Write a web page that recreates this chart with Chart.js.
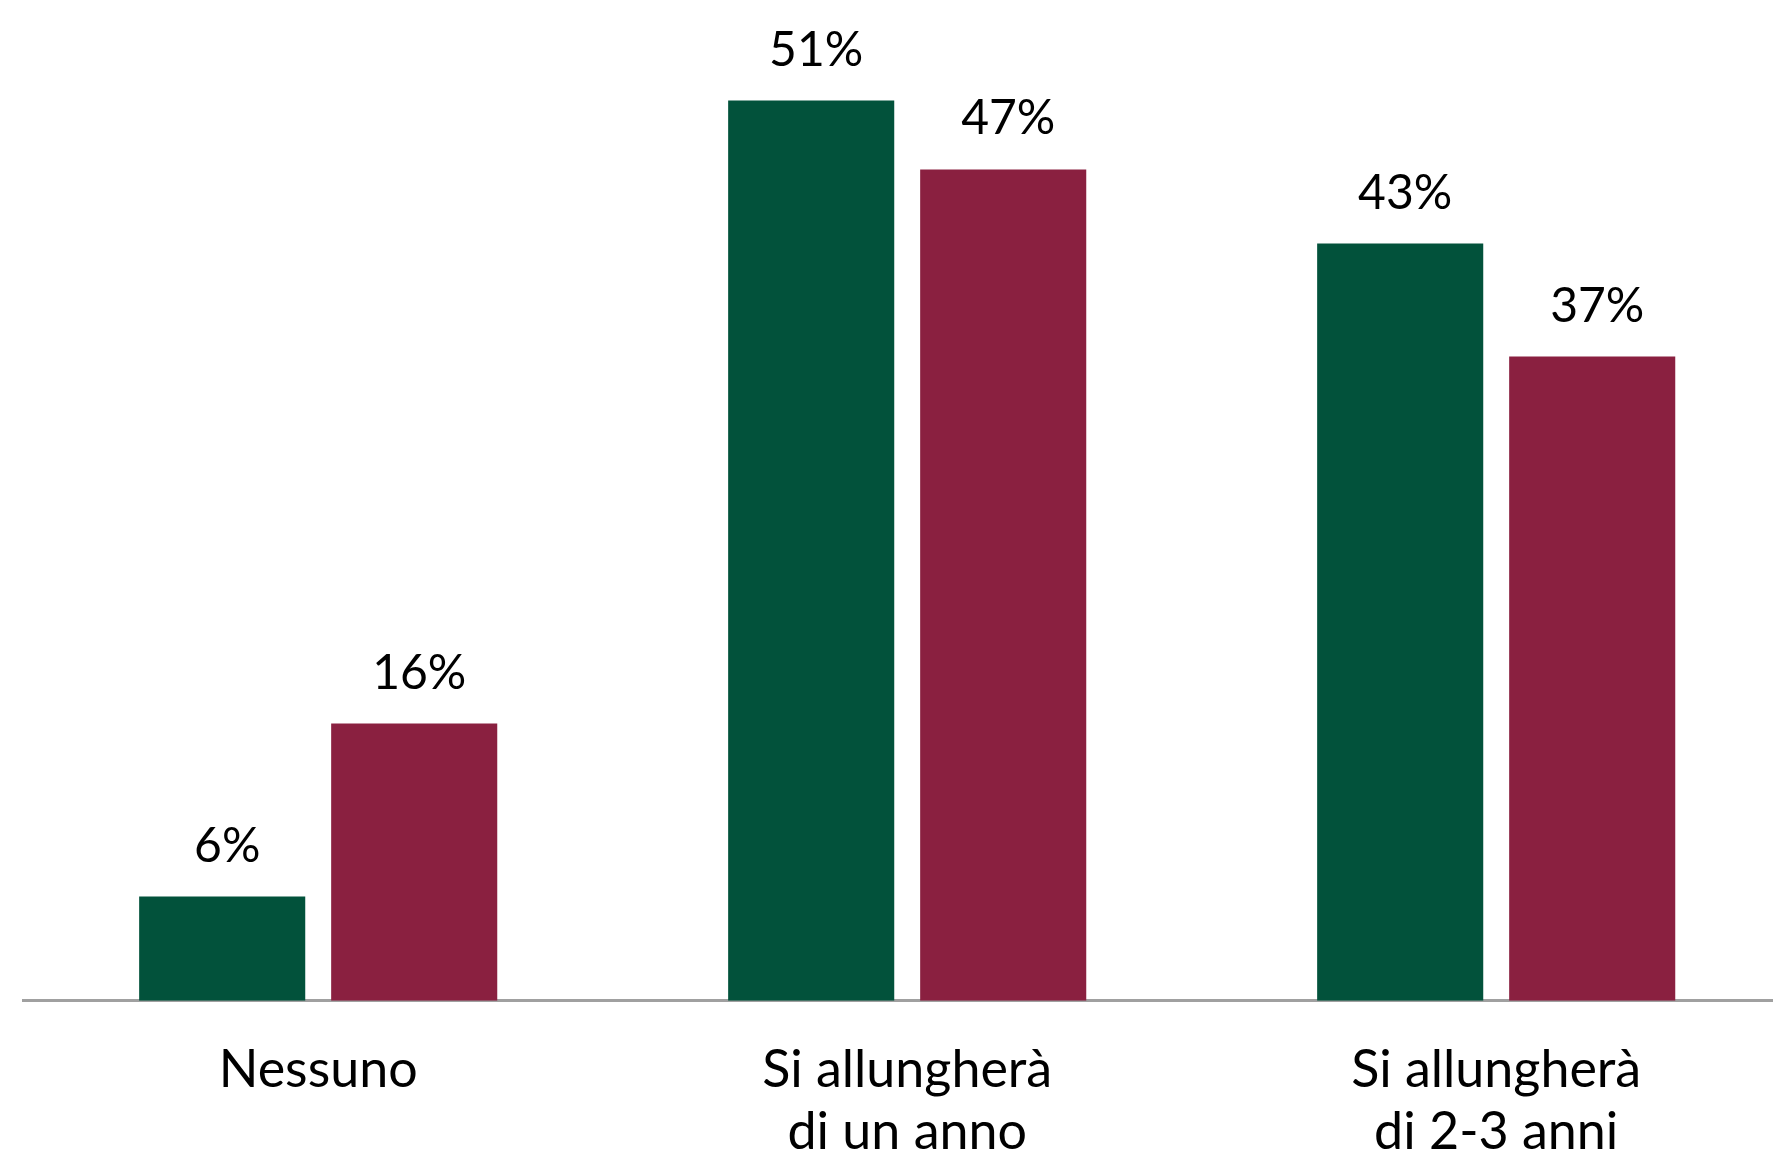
<!DOCTYPE html>
<html>
<head>
<meta charset="utf-8">
<script src="https://cdn.jsdelivr.net/npm/chart.js@4/dist/chart.umd.min.js"></script>
<style>
  html, body { margin: 0; padding: 0; background: #fff; overflow: hidden; }
  #wrap { width: 1800px; height: 1156px; }
</style>
</head>
<body>
<div id="wrap"><canvas id="myChart" width="1800" height="1156"></canvas></div>
<script>
var categories = ["Nessuno", ["Si allungherà", "di un anno"], ["Si allungherà", "di 2-3 anni"]];
var serieVerde = [5.9, 51, 42.9];
var serieRossa = [15.7, 47.1, 36.5];

// etichette sopra le barre
var valueLabels = {
    id: 'valueLabels',
    afterDatasetsDraw: function(chart) {
        var ctx = chart.ctx;
        ctx.save();
        ctx.font = '48px Lato';
        ctx.fillStyle = '#000';
        ctx.textAlign = 'center';
        ctx.textBaseline = 'alphabetic';
        chart.data.datasets.forEach(function(ds, i) {
            chart.getDatasetMeta(i).data.forEach(function(bar, j) {
                ctx.fillText(Math.round(ds.data[j]) + '%', bar.x + 5, bar.y - 35);
            });
        });
        ctx.restore();
    }
};

var ctx = document.getElementById('myChart').getContext('2d');
var chart = new Chart(ctx, {
    type: 'bar',
    data: {
        labels: categories,
        datasets: [{
            label: "A",
            backgroundColor: '#02523b',
            data: serieVerde,
        },
        {
            label: "B",
            backgroundColor: '#8a2040',
            data: serieRossa,
        }]
    },
    options: {
        responsive: false,
        animation: false,
        layout: { padding: { left: 23.7, right: 9.3, top: 0, bottom: 0 } },
        datasets: {
            bar: { categoryPercentage: 0.652, barPercentage: 0.865 }
        },
        plugins: {
            legend: { display: false },
            tooltip: { enabled: false }
        },
        scales: {
            x: {
                grid: { display: false, drawTicks: false },
                border: { display: true, color: '#a0a0a0', width: 3 },
                ticks: {
                    color: '#000',
                    font: { family: 'Lato', size: 52, lineHeight: 1.2 },
                    padding: 38,
                    maxRotation: 0,
                    autoSkip: false
                },
                afterFit: function(s) { s.height = 155.3; }
            },
            y: {
                display: false,
                min: 0,
                max: 56.7
            }
        }
    },
    plugins: [valueLabels]
});
</script>
</body>
</html>
